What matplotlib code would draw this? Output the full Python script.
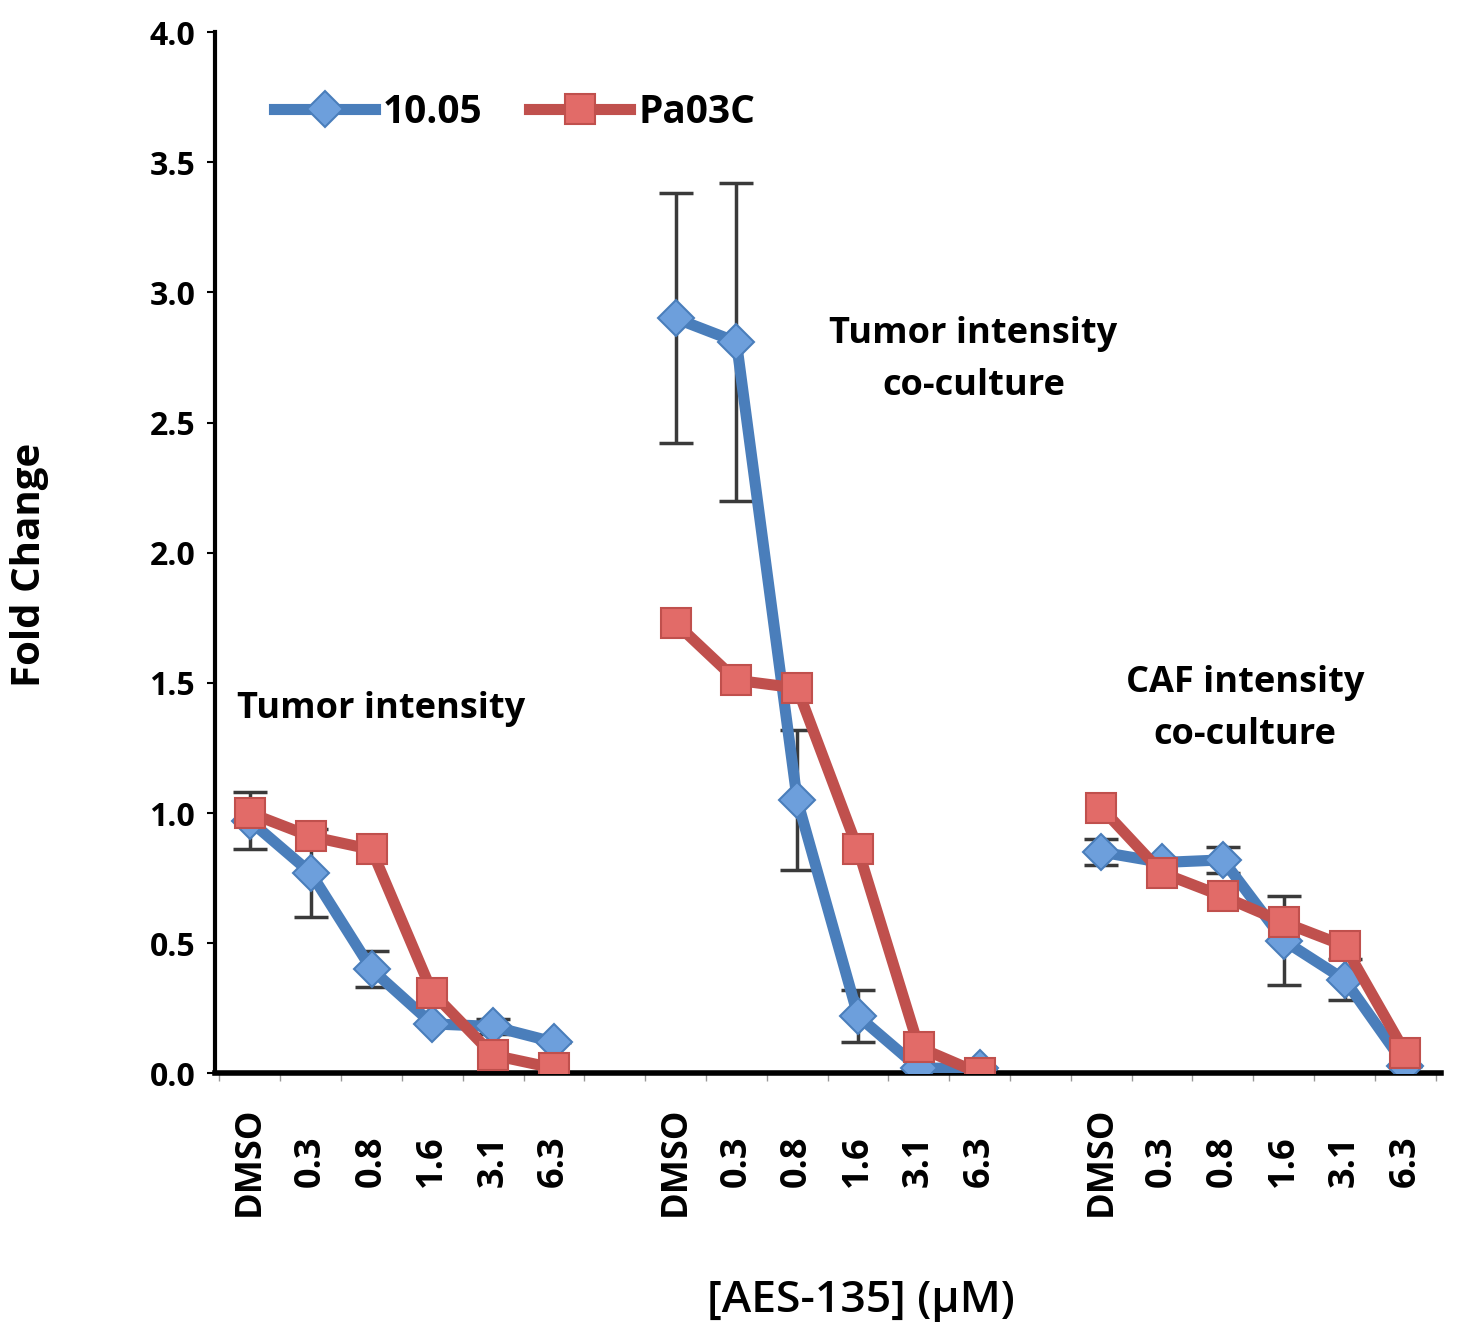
import numpy as np
import matplotlib.pyplot as plt

plt.rcParams['font.family'] = ['Open Sans', 'DejaVu Sans']

# data
doses = ["DMSO", "0.3", "0.8", "1.6", "3.1", "6.3"]
panels = ["Tumor intensity", "Tumor intensity\nco-culture", "CAF intensity\nco-culture"]

blue_1005 = [
    [0.97, 0.77, 0.40, 0.19, 0.18, 0.12],
    [2.90, 2.81, 1.05, 0.22, 0.02, 0.02],
    [0.85, 0.81, 0.82, 0.51, 0.36, 0.03],
]
blue_err = [
    [0.11, 0.17, 0.07, 0.00, 0.03, 0.00],
    [0.48, 0.61, 0.27, 0.10, 0.00, 0.00],
    [0.05, 0.00, 0.05, 0.17, 0.08, 0.00],
]
red_pa03c = [
    [1.00, 0.91, 0.86, 0.31, 0.07, 0.02],
    [1.73, 1.51, 1.48, 0.86, 0.10, 0.00],
    [1.02, 0.77, 0.68, 0.58, 0.49, 0.08],
]

blue_c, blue_face = "#4a7ebb", "#6d9fdc"
red_c, red_face = "#c0504d", "#e26b68"

fig = plt.figure(figsize=(14.7, 13.35), dpi=100)
ax = fig.add_axes([0.146, 0.196, 0.834, 0.78])

for g in range(3):
    x = np.arange(6) + 7 * g
    ax.errorbar(x, blue_1005[g], yerr=blue_err[g], fmt="none", ecolor="#3a3a3a",
                elinewidth=2.5, capsize=12, capthick=2.5, zorder=2)
    ax.plot(x, blue_1005[g], color=blue_c, lw=8, marker="D", ms=18,
            mfc=blue_face, mec=blue_c, mew=1.5, zorder=3,
            label="10.05" if g == 0 else None)
    ax.plot(x, red_pa03c[g], color=red_c, lw=8, marker="s", ms=22,
            mfc=red_face, mec=red_c, mew=1.5, zorder=4,
            label="Pa03C" if g == 0 else None)

# panel labels
ax.text(2.15, 1.40, panels[0], ha="center", va="center", fontsize=26, fontweight="bold")
ax.text(11.9, 2.74, panels[1], ha="center", va="center", fontsize=26, fontweight="bold",
        linespacing=1.6)
ax.text(16.36, 1.40, panels[2], ha="center", va="center", fontsize=26, fontweight="bold",
        linespacing=1.6)

ax.set_xlim(-0.58, 19.58)
ax.set_ylim(0, 4.0)
ax.set_yticks(np.arange(0, 4.01, 0.5))
ax.set_yticklabels([f"{v:.1f}" for v in np.arange(0, 4.01, 0.5)],
                   fontsize=23, fontweight="bold")

pos = [i + 7 * g for g in range(3) for i in range(6)]
ax.set_xticks(pos)
ax.set_xticklabels(doses * 3, rotation=90, fontsize=26, fontweight="bold")
for lab in ax.get_xticklabels():
    lab.set_va("center")
ax.set_xticks(np.arange(-0.5, 19.6, 1), minor=True)
ax.tick_params(axis="x", which="major", length=0, pad=63)
ax.tick_params(axis="x", which="minor", length=6, width=1, color="#999999")
ax.tick_params(axis="y", length=6, width=1.5, pad=8)

for s in ["top", "right"]:
    ax.spines[s].set_visible(False)
ax.spines["left"].set_linewidth(3)
ax.spines["bottom"].set_linewidth(4)

ax.set_ylabel("Fold Change", fontsize=29, fontweight="bold", va="center")
ax.yaxis.set_label_coords(-0.151, 0.488)
ax.set_xlabel("[AES-135] (\u00b5M)", fontsize=32, fontweight="semibold", va="center")
ax.xaxis.set_label_coords(0.527, -0.218)

ax.legend(loc="upper left", bbox_to_anchor=(0.02, 0.975), ncol=2, frameon=False,
          prop={"size": 28, "weight": "bold"}, handlelength=2.6,
          columnspacing=1.2, handletextpad=0.2)

plt.savefig("out.png", dpi=100)
